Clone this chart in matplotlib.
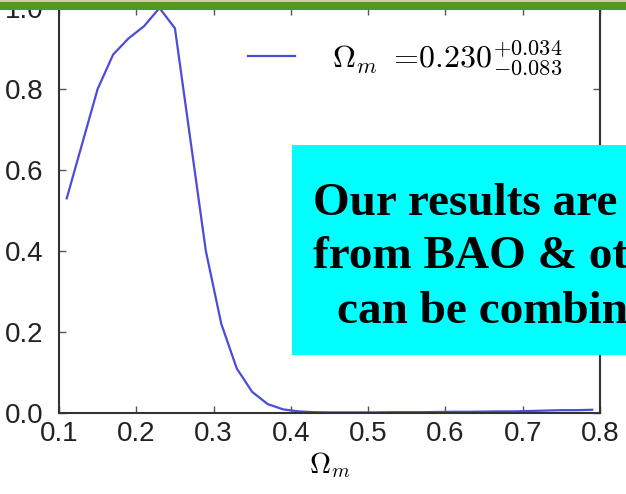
import matplotlib
matplotlib.use("Agg")
import matplotlib.pyplot as plt
from matplotlib.patches import Rectangle

# data
omega_m = [0.11, 0.13, 0.15, 0.17, 0.19, 0.21, 0.23, 0.25, 0.27, 0.29,
           0.31, 0.33, 0.35, 0.37, 0.39, 0.41, 0.43, 0.45, 0.47, 0.49,
           0.51, 0.53, 0.55, 0.57, 0.59, 0.61, 0.63, 0.65, 0.67, 0.69,
           0.71, 0.73, 0.75, 0.77, 0.79]
likelihood = [0.53, 0.665, 0.80, 0.885, 0.925, 0.955, 1.0, 0.95, 0.675, 0.40,
              0.22, 0.11, 0.052, 0.022, 0.009, 0.004, 0.002, 0.0015, 0.0015, 0.0015,
              0.0015, 0.002, 0.002, 0.002, 0.0025, 0.003, 0.003, 0.0035, 0.004, 0.004,
              0.005, 0.006, 0.007, 0.007, 0.008]
xticks = [0.1, 0.2, 0.3, 0.4, 0.5, 0.6, 0.7, 0.8]
xtick_labels = ["0.1", "0.2", "0.3", "0.4", "0.5", "0.6", "0.7", "0.8"]
yticks = [0.0, 0.2, 0.4, 0.6, 0.8, 1.0]
ytick_labels = ["0.0", "0.2", "0.4", "0.6", "0.8", "1.0"]
legend_label = r"$\Omega_m\ =\!0.230^{+0.034}_{-0.083}$"
box_lines = ["Our results are independent", "from BAO & other probes", "can be combined"]

W, H = 626, 494
plt.rcParams['mathtext.fontset'] = 'cm'
fig = plt.figure(figsize=(W / 100, H / 100), dpi=100)
fig.patch.set_facecolor("white")

ax = fig.add_axes([59 / W, 1 - 413 / H, (600 - 59) / W, (413 - 8) / H])
ax.plot(omega_m, likelihood, color="#4b4bdc", lw=1.6, label=legend_label)
ax.set_xlim(0.1, 0.8)
ax.set_ylim(0.0, 1.0)
ax.set_xticks(xticks)
ax.set_xticklabels(xtick_labels, family="Liberation Sans", fontsize=20, color="#222222")
ax.set_yticks(yticks)
ax.set_yticklabels(ytick_labels, family="Liberation Sans", fontsize=20, color="#222222")
ax.tick_params(direction="in", top=True, right=True, length=5, width=1, colors="#555555",
               labelcolor="#222222")
ax.tick_params(axis="x", pad=6)
ax.tick_params(axis="y", pad=11)
for s in ax.spines.values():
    s.set_color("#333333")
    s.set_linewidth(1.5)
ax.set_xlabel(r"$\Omega_m$", fontsize=21, labelpad=2)

leg = ax.legend(loc="center left", bbox_to_anchor=(248 / W, 1 - 58 / H),
                bbox_transform=fig.transFigure, frameon=False, fontsize=23,
                handlelength=1.47, handletextpad=1.15, borderpad=0, borderaxespad=0)

# top slide bar
fig.patches.append(Rectangle((0, 1 - 2.5 / H), 1, 2.5 / H, transform=fig.transFigure,
                             facecolor="#d9cba3", edgecolor="none", zorder=10))
fig.patches.append(Rectangle((0, 1 - 10 / H), 1, 7.5 / H, transform=fig.transFigure,
                             facecolor="#509a1e", edgecolor="none", zorder=10))

# cyan box
fig.patches.append(Rectangle((292 / W, 1 - 355 / H), (W - 292) / W + 0.05, 210 / H,
                             transform=fig.transFigure, facecolor="#00ffff",
                             edgecolor="none", zorder=10))
for txt, x, y in zip(box_lines, [313, 313, 337], [215, 268, 323]):
    fig.text(x / W, 1 - y / H, txt, family="Liberation Serif", weight="bold",
             fontsize=34, color="black", ha="left", va="baseline", zorder=11)

fig.savefig("out.png", dpi=100)
